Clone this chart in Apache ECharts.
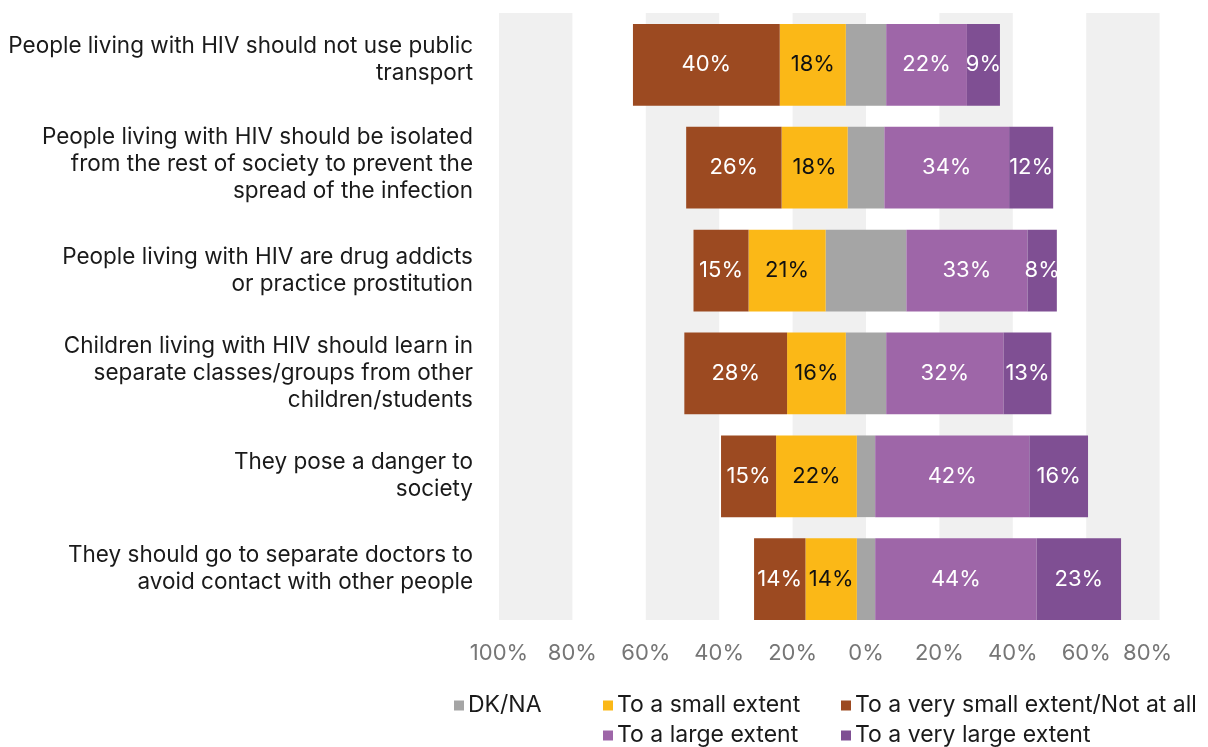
<!DOCTYPE html>
<html>
<head>
<meta charset="utf-8">
<script src="https://cdn.jsdelivr.net/npm/echarts@6/dist/echarts.min.js"></script>
<style>
  html, body { margin: 0; padding: 0; background: #fff; }
  #chart { width: 1208px; height: 747px; }
</style>
</head>
<body>
<div id="chart"></div>
<script>
// Statements about people living with HIV (top to bottom)
const categories = [
  'People living with HIV should not use public\ntransport',
  'People living with HIV should be isolated\nfrom the rest of society to prevent the\nspread of the infection',
  'People living with HIV are drug addicts\nor practice prostitution',
  'Children living with HIV should learn in\nseparate classes/groups from other\nchildren/students',
  'They pose a danger to\nsociety',
  'They should go to separate doctors to\navoid contact with other people'
];

// Shares of respondents, percent
const veryLargeExtent = [9, 12, 8, 13, 16, 23];
const largeExtent     = [22, 34, 33, 32, 42, 44];
const dkna            = [11, 10, 22, 11, 5, 5];
const smallExtent     = [18, 18, 21, 16, 22, 14];
const verySmallExtent = [40, 26, 15, 28, 15, 14];

// Value axis ticks (left side shown as positive percentages)
const axisMin = -100, axisMax = 80, axisStep = 20;

const FONT = 'Inter, "Noto Sans", sans-serif';
const C = {
  dk: '#A5A5A5',
  small: '#FBB817',
  verySmall: '#9C4A21',
  large: '#9E66A8',
  veryLarge: '#7F4F93',
  band: '#F0F0F0'
};

// Upward nudge (px) of each category label relative to its bar
const labelLift = [5.5, 3.5, 0, 0.5, 0.5, 10.5];

const neg = arr => arr.map(v => -v);
const half = arr => arr.map(v => v / 2);
const pctLabel = color => ({
  show: true,
  position: 'inside',
  color: color,
  fontFamily: FONT,
  fontSize: 22,
  formatter: p => Math.abs(p.value) + '%'
});

// plot width chosen so the zero line falls on a whole pixel
const GRID_LEFT = 499, GRID_WIDTH = 660.6;
const GRID_RIGHT = 1208 - GRID_LEFT - GRID_WIDTH;

// invisible spacer lines under each label: a spacer of height 2h lifts the block by h
const spacerRich = {};
labelLift.forEach((h, i) => {
  spacerRich['sp' + i] = { height: h * 2, lineHeight: h * 2, fontSize: 1, color: 'rgba(0,0,0,0)' };
});

const chart = echarts.init(document.getElementById('chart'), null, { renderer: 'canvas' });

function legendItem(name, left, top) {
  return {
    data: [name],
    left: left,
    top: top,
    icon: 'rect',
    itemWidth: 10,
    itemHeight: 10,
    itemGap: 0,
    padding: 0,
    selectedMode: false,
    textStyle: { fontFamily: FONT, fontSize: 23, color: '#1a1a1a', padding: [0, 0, 0, -1] }
  };
}

chart.setOption({
  animation: false,
  backgroundColor: '#fff',
  grid: [
    // background bands
    { left: GRID_LEFT, right: GRID_RIGHT, top: 13, bottom: 127 },
    // bars
    { left: GRID_LEFT, right: GRID_RIGHT, top: 13.4, bottom: 116.4 }
  ],
  xAxis: [
    {
      gridIndex: 0, type: 'value', min: axisMin, max: axisMax, interval: axisStep,
      axisLabel: { show: false }, axisLine: { show: false }, axisTick: { show: false },
      splitLine: { show: false },
      splitArea: { show: true, areaStyle: { color: [C.band, 'rgba(255,255,255,0)'] } }
    },
    {
      gridIndex: 1, type: 'value', min: axisMin, max: axisMax, interval: axisStep,
      axisLine: { show: false }, axisTick: { show: false }, splitLine: { show: false },
      axisLabel: {
        margin: 12,
        color: '#767676',
        fontFamily: FONT,
        fontSize: 22,
        formatter: v => v === axisMax ? '{end|' + Math.abs(v) + '%}' : Math.abs(v) + '%',
        rich: {
          end: { padding: [0, 24, 0, 0], color: '#767676', fontFamily: FONT, fontSize: 22 }
        }
      }
    }
  ],
  yAxis: [
    { gridIndex: 0, type: 'category', data: categories, inverse: true, show: false },
    {
      gridIndex: 1, type: 'category', data: categories, inverse: true,
      axisLine: { show: false }, axisTick: { show: false },
      axisLabel: {
        margin: 26,
        color: '#1a1a1a',
        fontFamily: FONT,
        fontSize: 22.5,
        lineHeight: 27,
        align: 'right',
        formatter: (value, index) => value + '\n{sp' + index + '| }',
        rich: spacerRich
      }
    }
  ],
  legend: [
    legendItem('DK/NA', 454, 694),
    legendItem('To a small extent', 603, 694),
    legendItem('To a very small extent/Not at all', 841, 694),
    legendItem('To a large extent', 603, 724),
    legendItem('To a very large extent', 841, 724)
  ],
  series: [
    {
      name: 'DK/NA', type: 'bar', stack: 'total', xAxisIndex: 1, yAxisIndex: 1,
      barCategoryGap: '20.6%', itemStyle: { color: C.dk }, data: neg(half(dkna))
    },
    {
      name: 'DK/NA', type: 'bar', stack: 'total', xAxisIndex: 1, yAxisIndex: 1,
      itemStyle: { color: C.dk }, data: half(dkna)
    },
    {
      name: 'To a small extent', type: 'bar', stack: 'total', xAxisIndex: 1, yAxisIndex: 1,
      itemStyle: { color: C.small }, label: pctLabel('#111'), data: neg(smallExtent)
    },
    {
      name: 'To a very small extent/Not at all', type: 'bar', stack: 'total', xAxisIndex: 1, yAxisIndex: 1,
      itemStyle: { color: C.verySmall }, label: pctLabel('#fff'), data: neg(verySmallExtent)
    },
    {
      name: 'To a large extent', type: 'bar', stack: 'total', xAxisIndex: 1, yAxisIndex: 1,
      itemStyle: { color: C.large }, label: pctLabel('#fff'), data: largeExtent
    },
    {
      name: 'To a very large extent', type: 'bar', stack: 'total', xAxisIndex: 1, yAxisIndex: 1,
      itemStyle: { color: C.veryLarge }, label: pctLabel('#fff'), data: veryLargeExtent
    }
  ]
});
</script>
</body>
</html>
